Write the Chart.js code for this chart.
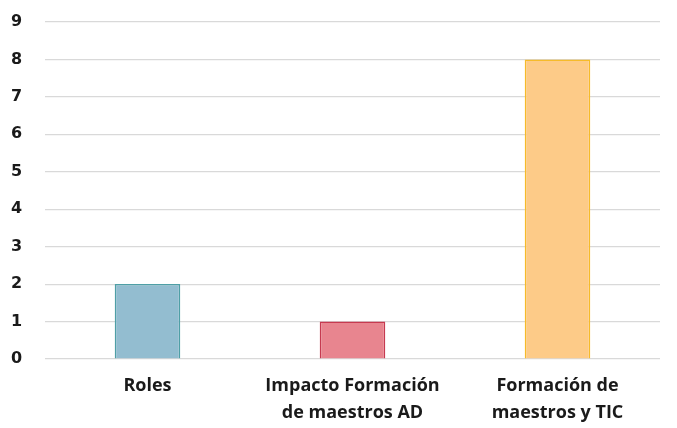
<!DOCTYPE html>
<html lang="es">
  <head>
    <meta charset="utf-8" />
    <title>Bar Chart</title>
    <style>
      html, body {
        margin: 0;
        padding: 0;
        background: #ffffff;
        overflow: hidden;
      }
      .chartBox {
        width: 677px;
        height: 428px;
      }
    </style>
  </head>
  <body>
    <div class="chartBox">
      <canvas id="myChart" width="677" height="428"></canvas>
    </div>

    <script src="https://cdn.jsdelivr.net/npm/chart.js/dist/chart.umd.min.js"></script>
    <script>
      // data
      const categories = [
        ["Roles"],
        ["Impacto Formación", "de maestros AD"],
        ["Formación de", "maestros y TIC"],
      ];
      const values = [2, 1, 8];
      const fillColors = ["#93bdd0", "#e8858f", "#fdcb88"];
      const borderColors = ["#4f9fa6", "#c63a50", "#f6bb2a"];

      const config = {
        type: "bar",
        data: {
          labels: categories,
          datasets: [
            {
              data: values,
              backgroundColor: fillColors,
              borderColor: borderColors,
              borderWidth: 1.5,
              barPercentage: 0.64,
              categoryPercentage: 0.5,
            },
          ],
        },
        options: {
          responsive: false,
          animation: false,
          layout: {
            padding: { top: 22, right: 17, bottom: -3, left: 11 },
          },
          scales: {
            y: {
              min: 0,
              max: 9,
              afterFit: (axis) => {
                axis.width = 34;
              },
              ticks: {
                stepSize: 1,
                color: "#1a1a1a",
                padding: 4,
                crossAlign: "far",
                font: { family: "DejaVu Sans", size: 16, weight: "bold" },
              },
              grid: {
                color: "#d9d9d9",
                lineWidth: 1.2,
                drawTicks: false,
              },
              border: { display: false },
            },
            x: {
              ticks: {
                color: "#1a1a1a",
                padding: 5,
                font: {
                  family: "Open Sans",
                  size: 18,
                  weight: "bold",
                  lineHeight: 1.5,
                },
              },
              grid: { display: false },
              border: { display: false },
            },
          },
          plugins: {
            legend: { display: false },
            tooltip: { enabled: false },
          },
        },
      };

      const myChart = new Chart(document.getElementById("myChart"), config);
    </script>
  </body>
</html>
